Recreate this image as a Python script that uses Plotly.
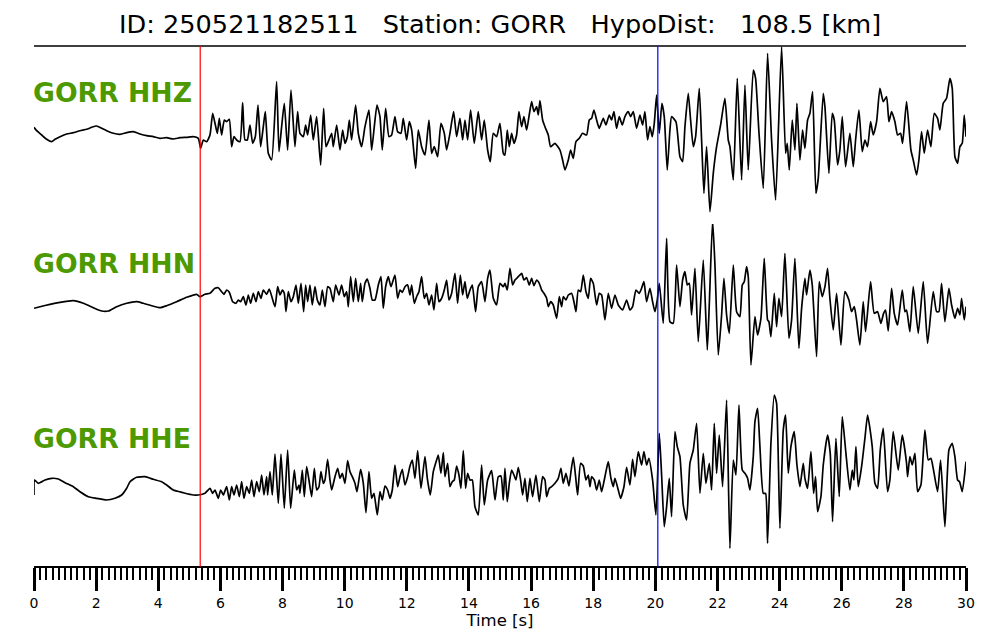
import plotly.graph_objects as go

# ---------------- data ----------------
title_text = "ID: 250521182511   Station: GORR   HypoDist:   108.5 [km]"
station = "GORR"
channels = ["HHZ", "HHN", "HHE"]
p_pick = 5.35   # red line [s]
s_pick = 20.08  # blue line [s]
x_ticks = [0, 2, 4, 6, 8, 10, 12, 14, 16, 18, 20, 22, 24, 26, 28, 30]

t_hhz = [0.000, 0.086, 0.247, 0.408, 0.569, 0.676, 0.837, 1.051, 1.266, 1.481, 1.695, 1.856, 2.017, 2.178,
         2.339, 2.553, 2.768, 2.983, 3.197, 3.412, 3.626, 3.841, 4.055, 4.270, 4.484, 4.699, 4.914, 5.128,
         5.289, 5.364, 5.450, 5.557, 5.665, 5.751, 5.826, 5.901, 5.965, 6.040, 6.126, 6.201, 6.287, 6.362,
         6.437, 6.523, 6.630, 6.716, 6.791, 6.866, 6.952, 7.038, 7.124, 7.210, 7.295, 7.381, 7.445, 7.542,
         7.650, 7.810, 7.886, 7.971, 8.057, 8.164, 8.272, 8.400, 8.486, 8.561, 8.669, 8.744, 8.808, 8.905,
         8.990, 9.098, 9.227, 9.323, 9.398, 9.473, 9.581, 9.634, 9.742, 9.849, 9.935, 10.010, 10.085, 10.149,
         10.224, 10.353, 10.439, 10.546, 10.654, 10.782, 10.868, 10.954, 11.040, 11.136, 11.211, 11.319,
         11.426, 11.512, 11.619, 11.705, 11.812, 11.887, 11.995, 12.080, 12.156, 12.284, 12.370, 12.477,
         12.585, 12.713, 12.799, 12.885, 12.992, 13.099, 13.207, 13.282, 13.389, 13.507, 13.604, 13.711,
         13.797, 13.872, 13.958, 14.054, 14.172, 14.301, 14.408, 14.494, 14.602, 14.687, 14.784, 14.891,
         14.998, 15.106, 15.159, 15.234, 15.299, 15.374, 15.449, 15.535, 15.610, 15.696, 15.771, 15.857,
         15.932, 16.018, 16.093, 16.179, 16.232, 16.286, 16.372, 16.447, 16.554, 16.629, 16.769, 16.930,
         17.015, 17.091, 17.198, 17.273, 17.359, 17.445, 17.552, 17.659, 17.788, 17.874, 17.949, 18.024,
         18.110, 18.195, 18.324, 18.410, 18.517, 18.592, 18.668, 18.753, 18.839, 18.936, 19.022, 19.129,
         19.204, 19.290, 19.397, 19.504, 19.590, 19.665, 19.751, 19.826, 19.901, 19.966, 20.041, 20.127,
         20.212, 20.287, 20.384, 20.470, 20.523, 20.663, 20.792, 20.878, 20.953, 21.060, 21.135, 21.221,
         21.296, 21.414, 21.489, 21.564, 21.650, 21.758, 21.865, 21.972, 22.101, 22.240, 22.347, 22.401,
         22.509, 22.637, 22.777, 22.884, 22.991, 23.152, 23.227, 23.334, 23.474, 23.613, 23.742, 23.871,
         24.064, 24.193, 24.246, 24.311, 24.407, 24.493, 24.558, 24.654, 24.740, 24.815, 24.901, 24.976,
         25.062, 25.169, 25.244, 25.405, 25.459, 25.587, 25.695, 25.759, 25.866, 25.941, 26.017, 26.124,
         26.263, 26.371, 26.446, 26.553, 26.660, 26.746, 26.832, 26.929, 27.014, 27.122, 27.229, 27.336,
         27.444, 27.519, 27.605, 27.712, 27.798, 27.894, 27.959, 28.087, 28.227, 28.302, 28.409, 28.484,
         28.570, 28.656, 28.763, 28.870, 28.978, 29.085, 29.160, 29.267, 29.375, 29.482, 29.557, 29.643,
         29.729, 29.804, 29.879, 29.944, 30.000]
a_hhz = [7.7, 4.3, 0.0, -4.3, -6.7, -4.3, -1.7, 1.0, 2.3, 4.3, 5.7, 7.7, 9.0, 6.7,
         4.3, 1.7, 0.7, 2.3, 3.3, 1.0, -0.7, -1.7, -3.3, -2.7, -4.0, -2.7, -2.3, -1.7,
         -3.3, -13.3, -5.0, -6.7, 0.0, 21.7, 11.7, 1.7, 16.7, 0.0, 15.0, 13.3, 15.7, -11.7,
         -1.7, -5.0, -6.7, 32.3, -5.0, -5.0, 10.0, -8.3, -1.7, 30.0, -11.7, 8.3, 23.3, -18.3,
         -25.0, 53.3, -16.7, 8.3, 31.7, -15.0, 45.0, -11.7, 23.3, 1.7, -1.7, 10.0, 0.0, 20.0,
         -5.0, 18.3, -30.0, 26.7, -11.7, -6.7, 1.7, -11.7, 10.0, -15.0, 5.0, -8.3, -1.7, 15.0,
         -5.0, 30.0, 1.7, -11.7, 8.3, 25.0, -15.0, 8.3, 30.0, 18.3, -15.0, 26.7,
         -1.7, 0.0, 18.3, 3.3, 1.7, 16.7, -5.0, 13.3, 5.0, -33.3, 5.0, -11.7,
         -20.0, 15.0, -18.3, -11.7, -21.7, 11.7, 1.7, -15.0, 1.7, 23.3, -1.7, 16.7,
         -5.0, 15.0, -5.0, 25.0, -8.3, 23.3, -5.0, 15.0, -15.0, -26.7, 1.7, -1.7,
         11.7, -18.3, -20.0, 5.0, -11.7, 1.7, -8.3, 0.0, 23.3, 8.3, 18.3, 5.0,
         18.3, 33.3, 23.3, 28.3, 20.0, 34.3, 15.0, 8.3, 0.0, -11.7, -8.3, -15.0,
         -25.0, -35.0, -25.0, -15.0, -23.3, -6.7, -3.3, 1.7, 0.0, 15.0, 16.7, 25.0,
         15.0, 6.7, 16.7, 10.0, 20.0, 15.0, 23.3, 6.7, 18.3, 10.0, 18.3, 23.3,
         18.3, 23.3, 6.7, 20.0, 10.0, 23.3, -5.0, 8.3, -1.7, 11.7, 40.0, 1.7,
         31.7, 18.3, -35.0, 5.0, 18.3, 13.3, -21.7, -26.7, 8.3, 41.7, 15.0, -11.7,
         -1.7, 46.7, -5.0, -58.3, -11.7, -76.7, -38.3, -11.7, 10.0, 36.7, -5.0, -11.7,
         -45.0, 56.7, -45.0, 50.0, -35.0, 65.0, 56.7, 3.3, -53.3, 81.7, -5.0, -65.0,
         88.3, -18.3, -8.3, -35.0, 15.0, -15.0, 31.7, -25.0, 5.0, -13.3, 15.0, 21.7,
         43.3, -58.3, -43.3, 41.7, 28.3, -38.3, 21.7, 15.0, -30.0, -15.0, 18.3, -31.7,
         1.7, -31.7, -5.0, 25.0, -16.7, -5.0, -11.7, 13.3, 0.0, 13.3, 46.7, 33.3,
         38.3, 13.3, 23.3, 13.3, 0.0, 1.7, -8.3, 33.3, -15.0, -25.0, -40.0, -25.0,
         3.3, -18.3, 5.0, -11.7, 21.7, 16.7, 5.0, 31.7, 36.7, 56.7, 46.7, -21.7,
         -28.3, -11.7, -8.3, 20.0, -1.7]

t_hhn = [0.000, 0.193, 0.515, 0.837, 1.266, 1.588, 1.910, 2.178, 2.393, 2.661, 2.983, 3.304, 3.519, 3.787,
         4.055, 4.270, 4.592, 4.914, 5.236, 5.343, 5.504, 5.665, 5.826, 5.933, 6.040, 6.115, 6.201, 6.287,
         6.394, 6.501, 6.577, 6.652, 6.737, 6.823, 6.898, 6.974, 7.059, 7.145, 7.220, 7.306, 7.381, 7.489,
         7.574, 7.757, 7.843, 7.918, 7.993, 8.057, 8.111, 8.186, 8.272, 8.347, 8.433, 8.508, 8.594, 8.679,
         8.744, 8.808, 8.883, 8.958, 9.044, 9.119, 9.205, 9.280, 9.366, 9.452, 9.527, 9.634, 9.709, 9.817,
         9.902, 9.988, 10.063, 10.117, 10.192, 10.278, 10.353, 10.439, 10.514, 10.567, 10.654, 10.728,
         10.814, 10.889, 10.975, 11.083, 11.168, 11.243, 11.319, 11.404, 11.490, 11.619, 11.705, 11.780,
         11.855, 11.941, 12.027, 12.102, 12.156, 12.241, 12.316, 12.391, 12.477, 12.563, 12.638, 12.713,
         12.799, 12.874, 12.960, 13.035, 13.121, 13.207, 13.282, 13.357, 13.443, 13.550, 13.636, 13.722,
         13.797, 13.872, 13.947, 14.033, 14.108, 14.215, 14.301, 14.408, 14.516, 14.602, 14.677, 14.784,
         14.891, 14.998, 15.106, 15.159, 15.234, 15.320, 15.406, 15.481, 15.589, 15.696, 15.771, 15.857,
         15.943, 16.018, 16.093, 16.179, 16.264, 16.340, 16.415, 16.501, 16.554, 16.629, 16.715, 16.823,
         16.908, 16.983, 17.037, 17.123, 17.198, 17.305, 17.380, 17.445, 17.520, 17.595, 17.681, 17.767,
         17.842, 17.917, 18.002, 18.110, 18.195, 18.271, 18.378, 18.485, 18.592, 18.700, 18.807, 18.947,
         19.075, 19.183, 19.268, 19.376, 19.483, 19.558, 19.633, 19.719, 19.826, 19.912, 19.987, 20.062,
         20.127, 20.255, 20.363, 20.470, 20.577, 20.685, 20.792, 20.878, 20.953, 21.028, 21.093, 21.168,
         21.275, 21.382, 21.543, 21.672, 21.736, 21.843, 21.919, 22.026, 22.133, 22.208, 22.294, 22.380,
         22.509, 22.616, 22.723, 22.798, 22.862, 22.937, 22.991, 23.077, 23.206, 23.292, 23.399, 23.506,
         23.613, 23.656, 23.721, 23.828, 23.903, 23.978, 24.064, 24.171, 24.300, 24.386, 24.493, 24.622,
         24.708, 24.815, 24.869, 24.976, 25.051, 25.190, 25.276, 25.373, 25.459, 25.544, 25.619, 25.727,
         25.834, 25.974, 26.102, 26.231, 26.317, 26.403, 26.478, 26.585, 26.692, 26.768, 26.929, 27.046,
         27.154, 27.261, 27.347, 27.411, 27.497, 27.605, 27.690, 27.798, 27.948, 28.034, 28.087, 28.194,
         28.302, 28.463, 28.624, 28.763, 28.945, 29.053, 29.128, 29.214, 29.321, 29.450, 29.536, 29.643,
         29.729, 29.804, 29.858, 29.944, 30.000]
a_hhn = [-8.3, -6.7, -4.3, -2.3, -0.7, -3.3, -7.7, -11.0, -11.0, -6.7, -3.3, -1.7, -3.3, -5.7,
         -7.7, -5.7, -1.7, 2.7, 5.7, 3.3, 5.7, 6.7, 11.7, 12.3, 8.3, 5.7, 10.0, 7.7,
         -1.7, -3.3, 0.0, -1.7, 3.3, -5.0, 5.0, -3.3, 6.7, -1.7, 8.3, 1.7, 10.0, 5.7,
         11.0, -6.7, 13.3, 5.0, 10.0, 6.7, -11.7, 8.3, -1.7, 3.3, 15.0, -3.3, 16.7, -11.7,
         15.0, -1.7, 15.0, -5.0, 13.3, 0.0, -5.0, 10.0, -6.7, 13.3, 11.7, -1.7, 15.0, 5.0,
         15.0, 3.3, 8.3, -6.7, 23.3, -1.7, 21.7, -1.7, 16.7, -1.7, 16.7, 21.0,
         11.7, 0.0, 0.0, 15.0, 23.3, -8.3, 13.3, 23.3, 13.3, 25.0, 1.7, 10.0,
         7.7, 13.3, 15.0, 5.0, 15.0, -3.3, 3.3, 8.3, 23.3, 1.7, 6.7, -5.0,
         5.0, -10.0, 16.7, -1.7, 1.7, 10.0, 20.0, 0.0, 6.7, 26.7, -3.3, 25.0,
         5.0, 18.3, 1.7, 10.0, 15.0, -11.7, 13.3, 18.3, -1.7, 21.7, 30.0, 1.7,
         -5.0, 16.7, 13.3, 16.7, 10.0, 31.7, 15.0, 20.0, 23.3, 26.7, 20.0, 22.3,
         15.0, 21.7, 14.3, 20.0, 16.7, 10.0, 6.7, 1.7, -6.7, -1.7, -5.0, -18.3,
         3.3, -6.7, 3.3, 0.0, 5.0, 6.7, -1.7, -11.7, 10.0, 8.3, 25.0, 8.3,
         1.7, 21.7, 16.7, -5.0, 6.7, 5.0, -20.0, 6.7, -8.3, 5.0, -5.0, -10.0,
         0.0, -10.0, -6.7, 10.0, 6.7, 11.7, 18.3, -1.7, 11.7, -1.7, -11.7, 0.0,
         16.7, -23.3, 61.7, -21.7, -23.3, 35.0, -6.7, 20.0, 28.3, 15.0, 16.7, -15.0,
         31.7, -41.7, 40.0, -50.0, -5.0, 80.0, 35.0, -55.0, -15.0, 21.7, -15.0, -33.3,
         35.0, -11.7, -16.7, 15.0, 18.3, 33.3, 23.3, -65.0, -16.7, -35.0, -18.3, 41.7,
         -20.0, -21.7, -36.7, 6.7, -26.7, 1.7, -16.7, 46.7, -38.3, -20.0, 41.7, -48.3,
         -8.3, 21.7, 5.0, 30.0, 15.0, -56.7, 18.3, 3.3, 13.3, 31.7, 1.7, -30.0,
         6.7, -45.0, 8.3, 0.0, -11.7, -6.7, -20.0, -45.0, -1.7, -31.7, 18.3, -13.3,
         -11.7, -23.3, -13.3, -10.0, -31.0, 11.7, -13.3, -25.0, 10.0, -11.7, -10.0, -31.7,
         13.3, -33.3, 18.3, -43.3, 8.3, -11.7, -11.7, 16.7, -21.7, 11.7, -5.0, -18.3,
         -8.3, -15.0, 1.7, -20.0, -6.7]

t_hhe = [0.000, 0.020, 0.139, 0.354, 0.569, 0.783, 0.998, 1.266, 1.481, 1.749, 2.017, 2.339, 2.607, 2.822,
         2.983, 3.090, 3.304, 3.573, 3.841, 4.109, 4.270, 4.484, 4.806, 5.128, 5.289, 5.504, 5.665, 5.751,
         5.826, 5.933, 6.008, 6.094, 6.201, 6.287, 6.362, 6.437, 6.523, 6.609, 6.684, 6.759, 6.845, 6.930,
         7.006, 7.081, 7.167, 7.252, 7.328, 7.403, 7.489, 7.521, 7.596, 7.671, 7.757, 7.864, 7.950, 8.057,
         8.164, 8.261, 8.379, 8.454, 8.529, 8.561, 8.636, 8.701, 8.776, 8.851, 8.937, 9.023, 9.098, 9.173,
         9.237, 9.312, 9.366, 9.452, 9.527, 9.581, 9.688, 9.774, 9.849, 9.924, 10.010, 10.096, 10.171,
         10.246, 10.332, 10.396, 10.514, 10.600, 10.686, 10.782, 10.868, 10.943, 11.050, 11.136, 11.211,
         11.297, 11.383, 11.458, 11.533, 11.619, 11.705, 11.780, 11.855, 11.941, 12.027, 12.102, 12.177,
         12.263, 12.349, 12.456, 12.585, 12.660, 12.756, 12.853, 12.960, 13.014, 13.099, 13.175, 13.228,
         13.314, 13.389, 13.464, 13.529, 13.604, 13.679, 13.743, 13.818, 13.893, 13.958, 14.033, 14.108,
         14.194, 14.301, 14.408, 14.494, 14.602, 14.730, 14.838, 14.945, 15.031, 15.106, 15.159, 15.234,
         15.299, 15.374, 15.449, 15.513, 15.589, 15.664, 15.728, 15.803, 15.878, 15.964, 16.050, 16.157,
         16.264, 16.372, 16.447, 16.501, 16.586, 16.661, 16.769, 16.876, 16.962, 17.037, 17.123, 17.219,
         17.284, 17.359, 17.434, 17.498, 17.595, 17.681, 17.767, 17.842, 17.895, 17.949, 18.035, 18.110,
         18.195, 18.271, 18.378, 18.485, 18.571, 18.646, 18.700, 18.807, 18.882, 18.990, 19.075, 19.183,
         19.268, 19.344, 19.451, 19.558, 19.633, 19.719, 19.794, 19.912, 20.019, 20.127, 20.202, 20.287,
         20.363, 20.448, 20.523, 20.631, 20.706, 20.792, 20.899, 21.006, 21.114, 21.221, 21.329, 21.436,
         21.543, 21.629, 21.736, 21.811, 21.897, 21.972, 22.058, 22.165, 22.294, 22.401, 22.509, 22.595,
         22.691, 22.798, 22.884, 22.970, 23.045, 23.152, 23.206, 23.292, 23.367, 23.474, 23.549, 23.613,
         23.721, 23.828, 23.903, 24.010, 24.118, 24.193, 24.278, 24.364, 24.472, 24.558, 24.654, 24.761,
         24.815, 24.901, 25.008, 25.094, 25.158, 25.223, 25.330, 25.405, 25.544, 25.630, 25.705, 25.813,
         25.920, 26.017, 26.135, 26.263, 26.339, 26.392, 26.457, 26.532, 26.639, 26.746, 26.832, 26.907,
         26.982, 27.068, 27.154, 27.240, 27.336, 27.474, 27.550, 27.657, 27.818, 27.948, 28.087, 28.120,
         28.194, 28.270, 28.356, 28.441, 28.549, 28.677, 28.785, 28.870, 28.945, 29.085, 29.182, 29.321,
         29.450, 29.557, 29.643, 29.729, 29.793, 29.879, 30.000]
a_hhe = [-5.0, 10.0, 6.7, 10.0, 11.7, 11.0, 7.3, 3.3, -1.7, -6.7, -8.3, -10.0, -8.3, -5.0,
         1.7, 8.3, 12.7, 13.3, 10.7, 8.3, 5.0, 0.0, -2.7, -5.0, -5.0, -3.3, 1.7, -3.3,
         0.0, -8.3, 0.0, -5.0, 3.3, -10.0, 3.3, -5.0, 5.0, -6.7, 8.3, -8.3, 3.3, -3.3,
         10.0, -6.7, 8.3, -1.7, 15.0, -5.0, 13.3, -5.0, 18.3, -5.0, 36.0, -13.3, 36.0, -18.3,
         40.0, -18.3, 20.0, 0.0, 5.0, -3.3, 20.0, -6.7, 23.3, 10.0, -6.7, 21.7, 0.0, 3.3,
         18.3, 6.7, 10.0, 30.7, 10.0, 0.0, 13.3, 21.7, 11.7, 16.7, 6.7, 29.3, 18.3,
         13.3, 6.7, -1.7, 20.7, 6.7, -22.7, 18.3, -8.3, -3.3, -25.0, -1.7, -10.0,
         4.0, 0.0, -8.3, 0.0, 25.0, 3.3, 13.3, 20.7, 5.0, 13.3, 24.0, 30.0,
         11.7, 39.3, 1.7, 33.3, 11.7, -5.0, 18.3, 30.0, 35.0, 16.7, 37.3, 13.3,
         26.7, 3.3, 8.3, 10.0, 24.0, 15.0, 1.7, 39.3, 1.7, 16.7, 10.0, 10.0,
         -16.7, -25.0, 25.0, -15.0, 10.0, 19.3, -10.0, 13.3, 14.0, -10.0, 21.7, -11.7,
         6.7, 20.0, 15.0, 10.0, 22.7, 10.0, -5.0, 11.7, -11.7, 11.7, -6.7, 15.0,
         -11.7, 13.3, 10.0, -6.7, 1.7, 3.3, 6.7, 11.7, 21.7, 6.7, 16.7, 4.0,
         18.3, 32.7, 13.3, -5.0, 26.7, 24.0, 10.0, 15.0, 3.3, 13.3, 10.0, 0.0,
         10.0, -1.7, 13.3, 28.3, 11.7, 3.3, 11.7, 0.0, -8.3, 3.3, 22.7, 5.0,
         30.7, 13.3, 38.3, 25.0, 38.3, 25.0, 31.7, 10.0, -25.0, 56.7, 15.0, -36.7,
         -16.7, 11.7, -26.7, 58.3, 43.3, 33.3, -15.0, -30.0, 26.7, 40.0, 66.7, -3.3,
         36.7, 6.7, 26.7, 0.0, 66.7, 16.7, 55.0, 3.3, 90.0, -58.3, 30.0, 15.0,
         85.0, 20.0, 16.7, 11.7, 0.0, 33.3, 68.3, 81.7, 43.3, -3.3, -3.3, -53.3,
         46.7, 95.0, 86.7, -38.3, 60.0, 75.0, 16.7, 43.3, 58.3, 25.0, 3.3, 26.7,
         11.7, 1.7, 38.3, -3.3, 13.3, -21.7, -6.7, 25.0, 55.0, 36.7, -31.7, 51.7,
         -6.7, 73.3, 36.7, 0.0, 20.0, 10.0, 43.3, 3.3, 23.3, 51.7, 75.0, 61.7,
         43.3, 6.7, 1.7, 40.0, 61.7, -1.7, 10.0, 58.3, 20.0, 55.0, 26.7, 13.3,
         33.3, 25.0, 36.7, -1.7, 5.0, 60.0, 30.0, 31.7, 21.7, -1.7, 30.0, -36.7,
         40.0, 46.7, 33.3, 10.0, 8.3, -1.7, 28.3]

traces_t = [t_hhz, t_hhn, t_hhe]
traces_a = [a_hhz, a_hhn, a_hhe]

# ---------------- layout (pixels of the 1000x640 picture) ----------------
# the page body adds an 8 px margin, so the figure is 8 px smaller and offset
PAGE_OFF = 8
W, H = 1000 - PAGE_OFF, 640 - PAGE_OFF
PLOT_L, PLOT_R, PLOT_T, PLOT_B = 34, 966, 46, 567   # plot area in window pixels
L, T = PLOT_L - PAGE_OFF, PLOT_T - PAGE_OFF
R = W - (PLOT_R - PAGE_OFF)
B = H - (PLOT_B - PAGE_OFF)
plot_h = PLOT_B - PLOT_T
# each panel in window px: (top, bottom, baseline)
panels = [(46, 224, 135), (224, 376, 300), (376, 567, 490)]
label_y = [92, 263, 438]

def frac(py):
    return (PLOT_B - py) / plot_h

fig = go.Figure()
for i, (tt, aa) in enumerate(zip(traces_t, traces_a)):
    yname = "y" if i == 0 else f"y{i+1}"
    fig.add_trace(go.Scatter(x=tt, y=aa, mode="lines", xaxis="x", yaxis=yname,
                             line=dict(color="black", width=1.7, shape="spline", smoothing=0.5),
                             showlegend=False, hoverinfo="skip"))

layout_axes = {}
for i, (top, bot, base) in enumerate(panels):
    key = "yaxis" if i == 0 else f"yaxis{i+1}"
    layout_axes[key] = dict(domain=[frac(bot), frac(top)], range=[base - bot, base - top],
                            visible=False, fixedrange=True, anchor="x")

fig.update_layout(**layout_axes)

GREEN = "#4C9900"
for ch, ly in zip(channels, label_y):
    fig.add_annotation(x=0, xref="paper", y=frac(ly), yref="paper", xanchor="left", yanchor="middle",
                       xshift=-3, text=f"<b>{station} {ch}</b>", showarrow=False,
                       font=dict(family="DejaVu Sans", size=26.7, color=GREEN))

fig.add_annotation(x=0.5, xref="paper", y=frac(24), yref="paper", xanchor="center", yanchor="middle",
                   text=title_text, showarrow=False,
                   font=dict(family="DejaVu Sans", size=25.6, color="black"))

# top spine
fig.add_shape(type="line", xref="paper", yref="paper", x0=0, x1=1, y0=1, y1=1,
              line=dict(color="black", width=1.5))
# picks
fig.add_shape(type="line", xref="x", yref="paper", x0=p_pick, x1=p_pick, y0=0, y1=1,
              line=dict(color="#FF0000", width=1.2))
fig.add_shape(type="line", xref="x", yref="paper", x0=s_pick, x1=s_pick, y0=0, y1=1,
              line=dict(color="#0000FF", width=1.2))

fig.update_layout(
    width=W, height=H,
    margin=dict(l=L, r=R, t=T, b=B, pad=0),
    paper_bgcolor="white", plot_bgcolor="white",
    font=dict(family="DejaVu Sans", color="black"),
    xaxis=dict(range=[0, 30], anchor="free", position=0, showgrid=False, zeroline=False,
               showline=True, linecolor="black", linewidth=2,
               tickmode="array", tickvals=x_ticks, ticktext=[str(v) for v in x_ticks],
               ticks="outside", ticklen=23, tickwidth=2.5, tickcolor="black",
               tickfont=dict(family="DejaVu Sans", size=14),
               minor=dict(dtick=0.2, tick0=0, ticks="outside", ticklen=12, tickwidth=2, tickcolor="black"),
               title=dict(text="Time [s]", font=dict(family="DejaVu Sans", size=16.5), standoff=0),
               fixedrange=True),
)

fig.write_html("out.html")
